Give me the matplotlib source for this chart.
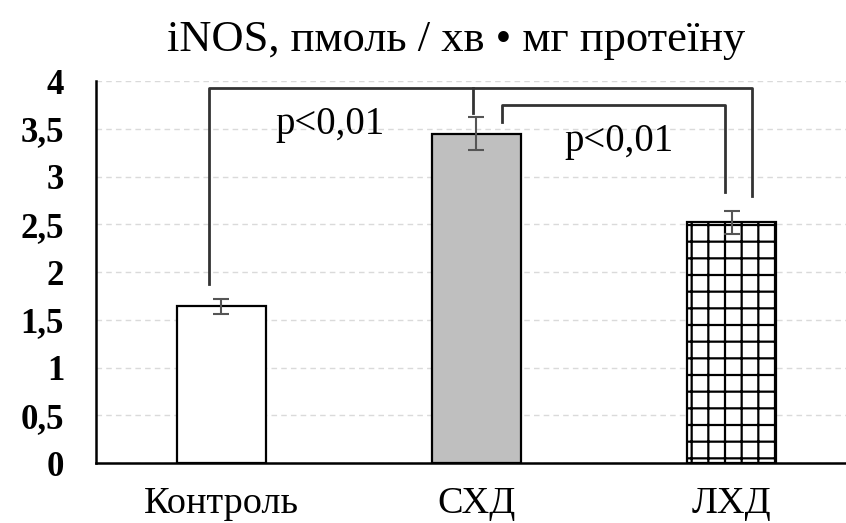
import matplotlib
matplotlib.use("Agg")
import matplotlib.pyplot as plt

plt.rcParams['font.family'] = ['Liberation Serif', 'DejaVu Serif']
plt.rcParams['hatch.linewidth'] = 1.6

# data
groups = ["Контроль", "СХД", "ЛХД"]
values = [1.64, 3.45, 2.52]
errors = [0.08, 0.17, 0.12]
y_ticks = [0, 0.5, 1, 1.5, 2, 2.5, 3, 3.5, 4]
y_tick_labels = ["0", "0,5", "1", "1,5", "2", "2,5", "3", "3,5", "4"]
p_labels = ["p<0,01", "p<0,01"]

fig = plt.figure(figsize=(8.46, 5.23), dpi=100)
ax = fig.add_axes([0.1135, 0.1147, 0.8865, 0.7303])

x = list(range(len(groups)))
bars = ax.bar(x, values, width=0.35, color=['white', '#bfbfbf', 'white'],
              edgecolor='black', linewidth=1.6, zorder=3)
bars[2].set_hatch('+')
ax.errorbar(x, values, yerr=errors, fmt='none', ecolor='#555555',
            elinewidth=1.5, capsize=6, capthick=1.5, zorder=4)

ax.set_xlim(-0.492, 2.449)
ax.set_ylim(0, 4)
ax.set_yticks(y_ticks)
ax.set_yticklabels(y_tick_labels, fontsize=25, fontweight='bold')
ax.set_xticks(x)
ax.set_xticklabels(groups, fontsize=27.5)
ax.tick_params(axis='y', length=0, pad=23)
ax.tick_params(axis='x', length=0, pad=17)

ax.grid(axis='y', color='#dadada', linestyle=(0, (4, 3)), linewidth=1, zorder=0)
for s in ['top', 'right']:
    ax.spines[s].set_visible(False)
for s in ['left', 'bottom']:
    ax.spines[s].set_linewidth(1.8)
    ax.spines[s].set_zorder(5)

# significance brackets
lc = '#333333'
ax.plot([-0.05, -0.05, 2.08, 2.08], [1.87, 3.93, 3.93, 2.80], color=lc, lw=2, zorder=4)
ax.plot([0.985, 0.985], [3.93, 3.67], color=lc, lw=2, zorder=4)
ax.plot([1.1, 1.1, 1.975, 1.975], [3.57, 3.75, 3.75, 2.84], color=lc, lw=2, zorder=4)
ax.text(0.425, 3.54, p_labels[0], fontsize=28, ha='center', va='center')
ax.text(1.56, 3.37, p_labels[1], fontsize=28, ha='center', va='center')

fig.text(0.539, 0.923, "iNOS, пмоль / хв • мг протеїну", fontsize=32,
         ha='center', va='center')

fig.savefig("out.png", dpi=100)
